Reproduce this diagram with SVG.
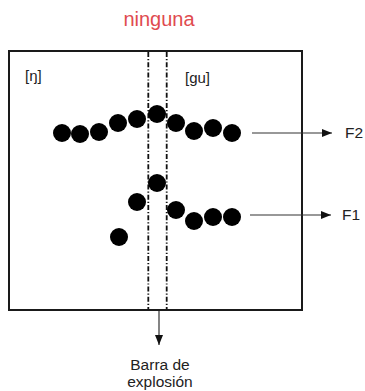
<svg xmlns="http://www.w3.org/2000/svg" width="365" height="391" viewBox="0 0 365 391">
<defs>
<style>
text{font-family:"Liberation Sans",Arial,sans-serif;fill:#222}
.title{fill:#e04b4f;font-size:20px}
.lbl{font-size:15px}
.f{font-size:15.5px}
.bar{font-size:15.5px}
.dot{fill:#000}
.div{stroke:#111;stroke-width:1.8;stroke-dasharray:5,2,1.2,2;fill:none}
.conn{stroke:#333;stroke-width:1.2;fill:none}
</style>
<marker id="ah" viewBox="0 0 10 8" refX="10" refY="4" markerWidth="10" markerHeight="8" markerUnits="userSpaceOnUse" orient="auto">
<path d="M0,0 L10,4 L0,8 Z" fill="#111"/>
</marker>
</defs>
<rect width="365" height="391" fill="#fff"/>
<text class="title" x="159" y="26" text-anchor="middle">ninguna</text>
<g id="frame">
<rect x="9" y="51" width="293" height="259" fill="none" stroke="#1a1a1a" stroke-width="2"/>
<text class="lbl" x="25" y="81">[ŋ]</text>
<text class="lbl" x="185" y="83">[gu]</text>
</g>
<g id="dividers">
<line class="div" x1="148.3" y1="52" x2="148.3" y2="309"/>
<line class="div" x1="166.7" y1="52" x2="166.7" y2="309"/>
</g>
<g id="F2-dots">
<circle class="dot" cx="62" cy="133" r="9"/>
<circle class="dot" cx="80" cy="134" r="9"/>
<circle class="dot" cx="99" cy="132" r="9"/>
<circle class="dot" cx="118" cy="123" r="9"/>
<circle class="dot" cx="137" cy="119" r="9"/>
<circle class="dot" cx="157" cy="114" r="9"/>
<circle class="dot" cx="176" cy="123" r="9"/>
<circle class="dot" cx="194" cy="131" r="9"/>
<circle class="dot" cx="213" cy="128" r="9"/>
<circle class="dot" cx="232" cy="133" r="9"/>
</g>
<g id="F1-dots">
<circle class="dot" cx="157" cy="183" r="9"/>
<circle class="dot" cx="137" cy="202" r="9"/>
<circle class="dot" cx="176" cy="210" r="9"/>
<circle class="dot" cx="194" cy="221" r="9"/>
<circle class="dot" cx="213" cy="217" r="9"/>
<circle class="dot" cx="232" cy="217" r="9"/>
<circle class="dot" cx="119" cy="237" r="9"/>
</g>
<g id="connectors">
<line class="conn" x1="252" y1="133" x2="332" y2="133" marker-end="url(#ah)"/>
<line class="conn" x1="250" y1="215" x2="331" y2="215" marker-end="url(#ah)"/>
<line class="conn" x1="159" y1="311" x2="159" y2="345" marker-end="url(#ah)"/>
</g>
<g id="F2"><text class="f" x="345" y="138">F2</text></g>
<g id="F1"><text class="f" x="342" y="220">F1</text></g>
<g id="barra">
<text class="bar" x="160" y="370" text-anchor="middle">Barra de</text>
<text class="bar" x="160" y="387" text-anchor="middle">explosión</text>
</g>
</svg>
